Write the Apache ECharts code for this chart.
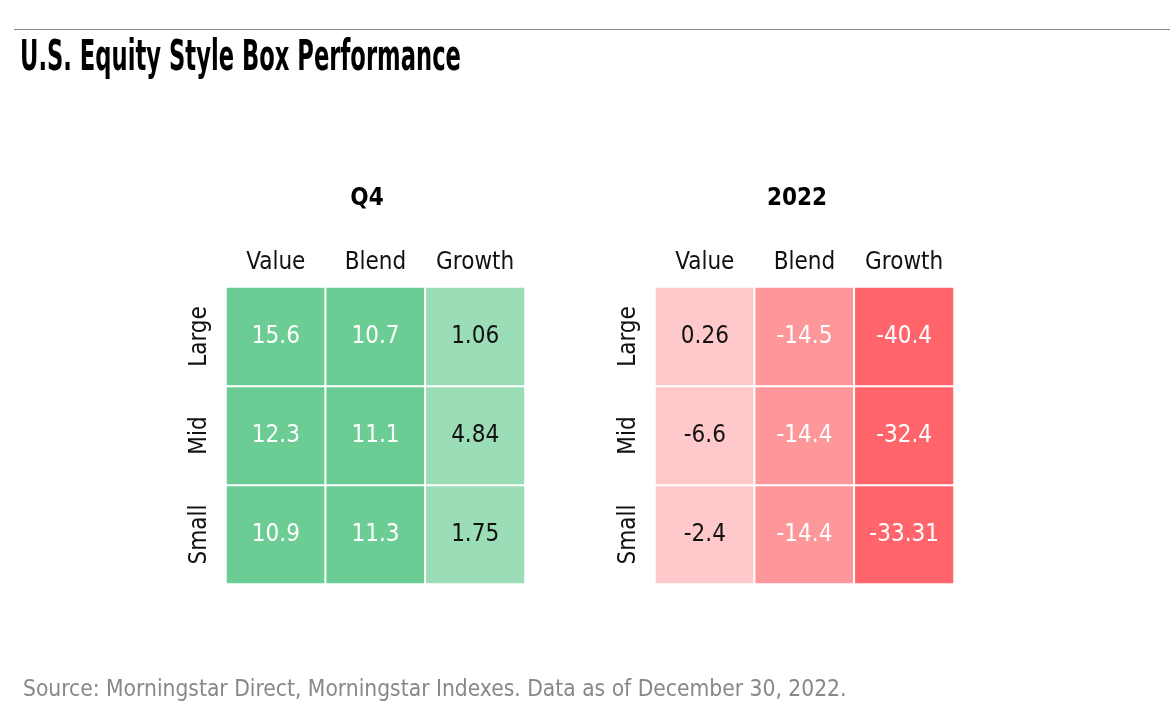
<!DOCTYPE html>
<html><head><meta charset="utf-8">
<script src="https://cdn.jsdelivr.net/npm/echarts@6/dist/echarts.min.js"></script>
<style>html,body{margin:0;padding:0;background:#fff}#c{width:1170px;height:728px}</style>
</head><body><div id="c"></div>
<script>
const styles = ['Value', 'Blend', 'Growth'];
const sizes = ['Small', 'Mid', 'Large'];
// rows: Large, Mid, Small ; cols: Value, Blend, Growth
const q4Large = [15.6, 10.7, 1.06];
const q4Mid = [12.3, 11.1, 4.84];
const q4Small = [10.9, 11.3, 1.75];
const y2022Large = [0.26, -14.5, -40.4];
const y2022Mid = [-6.6, -14.4, -32.4];
const y2022Small = [-2.4, -14.4, -33.31];

const FONT = '"Liberation Sans Narrow", "DejaVu Sans Condensed", "Roboto", sans-serif';

function toCells(large, mid, small) {
  const out = [];
  [[small, 0], [mid, 1], [large, 2]].forEach(([row, yi]) => {
    row.forEach((v, xi) => out.push([xi, yi, v]));
  });
  return out;
}

const chart = echarts.init(document.getElementById('c'), null, {renderer: 'canvas'});

function xAxis(gi) {
  return {
    type: 'category', data: styles, gridIndex: gi, position: 'top',
    axisLine: {show: false}, axisTick: {show: false}, splitLine: {show: false},
    axisLabel: {fontFamily: FONT, fontSize: 24, color: '#111', margin: 12, interval: 0}
  };
}
function yAxis(gi) {
  return {
    type: 'category', data: sizes, gridIndex: gi,
    axisLine: {show: false}, axisTick: {show: false}, splitLine: {show: false},
    axisLabel: {fontFamily: FONT, fontSize: 24, color: '#111', rotate: 90, margin: 14, interval: 0}
  };
}
function labelOf(light) {
  return {
    show: true, fontFamily: FONT, fontSize: 24,
    formatter: p => (light(p.value[2]) ? '{d|' : '{w|') + p.value[2] + '}',
    rich: {
      d: {color: '#111', fontFamily: FONT, fontSize: 24},
      w: {color: '#fff', fontFamily: FONT, fontSize: 24}
    }
  };
}

chart.setOption({
  animation: false,
  title: [
    {text: 'Q4', left: 362, top: 182, textAlign: 'center',
     textStyle: {fontFamily: FONT, fontWeight: 'bold', fontSize: 24, color: '#000'}},
    {text: '2022', left: 792, top: 182, textAlign: 'center',
     textStyle: {fontFamily: FONT, fontWeight: 'bold', fontSize: 24, color: '#000'}},
    {text: 'Source: Morningstar Direct, Morningstar Indexes. Data as of December 30, 2022.', left: 18, top: 674,
     textStyle: {fontFamily: FONT, fontWeight: 'normal', fontSize: 22.6, color: '#888'}}
  ],
  graphic: [
    {type: 'line', shape: {x1: 14, y1: 29.5, x2: 1170, y2: 29.5}, style: {stroke: '#888', lineWidth: 1}},
    {type: 'text', x: 20, y: 38, scaleX: 0.6,
     style: {text: 'U.S. Equity Style Box Performance', font: 'bold 42px ' + FONT, fill: '#000'}}
  ],
  grid: [
    {left: 226, top: 287, width: 299, height: 297},
    {left: 655, top: 287, width: 299, height: 297}
  ],
  xAxis: [xAxis(0), xAxis(1)],
  yAxis: [yAxis(0), yAxis(1)],
  visualMap: [
    {type: 'piecewise', show: false, seriesIndex: 0, dimension: 2,
     pieces: [{min: 8, color: '#6CCD94'}, {max: 8, color: '#9BDDB7'}]},
    {type: 'piecewise', show: false, seriesIndex: 1, dimension: 2,
     pieces: [{min: -10, color: '#FFC9CB'}, {min: -20, max: -10, color: '#FD9799'}, {max: -20, color: '#FF656A'}]}
  ],
  series: [
    {type: 'heatmap', xAxisIndex: 0, yAxisIndex: 0, data: toCells(q4Large, q4Mid, q4Small),
     itemStyle: {borderColor: '#fff', borderWidth: 2}, label: labelOf(v => v < 8),
     emphasis: {disabled: true}},
    {type: 'heatmap', xAxisIndex: 1, yAxisIndex: 1, data: toCells(y2022Large, y2022Mid, y2022Small),
     itemStyle: {borderColor: '#fff', borderWidth: 2}, label: labelOf(v => v > -10),
     emphasis: {disabled: true}}
  ]
});
</script></body></html>
